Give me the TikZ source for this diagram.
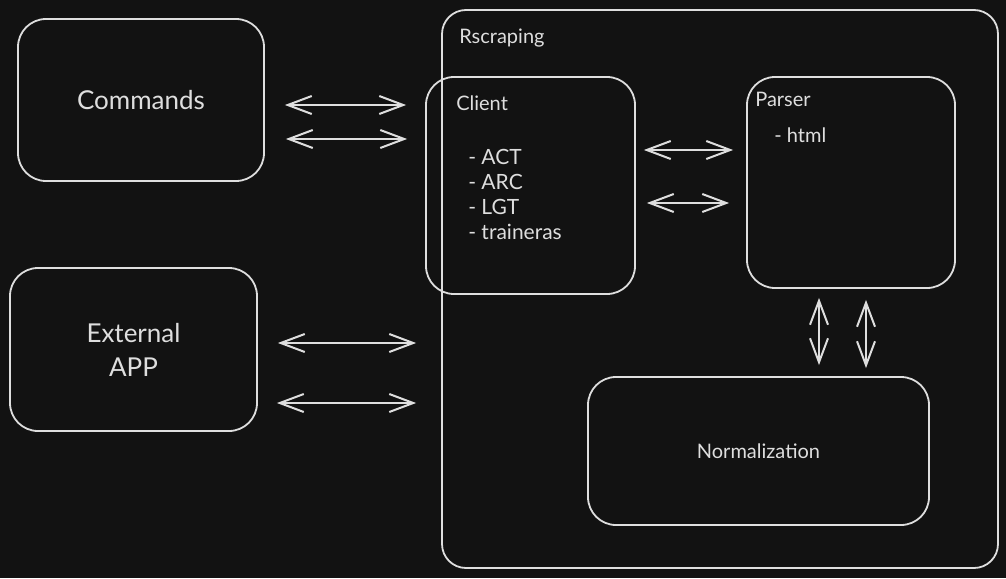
\documentclass[tikz,border=0pt]{standalone}
\usepackage{fontspec}
\setmainfont{Lato}
\usetikzlibrary{arrows.meta}
\definecolor{bgdark}{HTML}{121212}
\definecolor{ink}{HTML}{DEDEDE}

\begin{document}
\begin{tikzpicture}[x=1pt,y=-1pt,
  box/.style={draw=ink,line width=1.8pt,rounded corners=28pt,inner sep=0pt,text=ink},
  lbl/.style={text=ink,inner sep=0pt,font=\fontsize{20}{25}\selectfont},
  biarrow/.style={draw=ink,line width=2pt,{Straight Barb[length=24pt,width=18pt]}-{Straight Barb[length=24pt,width=18pt]}}]
\fill[bgdark] (0,0) rectangle (1006,578);
\useasboundingbox (0,0) rectangle (1006,578);

% outside
\node (commands) [box,minimum width=246pt,minimum height=162pt,font=\fontsize{26}{30}\selectfont] at (141,100) {Commands};
\node (external) [box,minimum width=247pt,minimum height=163pt,align=center,font=\fontsize{26}{34}\selectfont] at (133.5,349.5) {External\\APP};

% rscraping
\node (rscraping) [box,rounded corners=24pt,minimum width=556pt,minimum height=558pt] at (720,289) {};
\node (client) [box,minimum width=209pt,minimum height=217pt] at (530.5,185.5) {};
\node (parser) [box,minimum width=208pt,minimum height=211pt] at (851,182.5) {};
\node (normalization) [box,minimum width=341pt,minimum height=148pt,font=\fontsize{20}{24}\selectfont] at (758.5,451) {Normalization};

\node (rscrapingtitle) [lbl,anchor=base west] at ([shift={(18,34)}]rscraping.north west) {Rscraping};
\node (clienttitle) [lbl,anchor=base west] at ([shift={(31,34)}]client.north west) {Client};
\node (clientlist) [lbl,anchor=north west,align=left,font=\fontsize{21}{25}\selectfont] at ([shift={(43,73)}]client.north west) {- ACT\\- ARC\\- LGT\\- traineras};
\node (parsertitle) [lbl,anchor=base west] at ([shift={(9,30)}]parser.north west) {Parser};
\node (parserlist) [lbl,anchor=base west] at ([shift={(28,66)}]parser.north west) {- html};

% arrows
\draw [biarrow] ([shift={(20,5)}]commands.east) -- ([shift={(-19,-80.5)}]client.west);
\draw [biarrow] ([shift={(21,39)}]commands.east) -- ([shift={(-18,-46.5)}]client.west);
\draw [biarrow] ([shift={(20,-6.5)}]external.east) -- ([shift={(-25,54)}]rscraping.west);
\draw [biarrow] ([shift={(19,53.5)}]external.east) -- ([shift={(-25,114)}]rscraping.west);
\draw [biarrow] ([shift={(8,-35.5)}]client.east) -- ([shift={(-13,-32.5)}]parser.west);
\draw [biarrow] ([shift={(11,17.5)}]client.east) -- ([shift={(-17,20.5)}]parser.west);
\draw [biarrow] ([shift={(-32,9)}]parser.south) -- ([shift={(60.5,-11)}]normalization.north);
\draw [biarrow] ([shift={(15,11)}]parser.south) -- ([shift={(107.5,-8)}]normalization.north);
\end{tikzpicture}
\end{document}
